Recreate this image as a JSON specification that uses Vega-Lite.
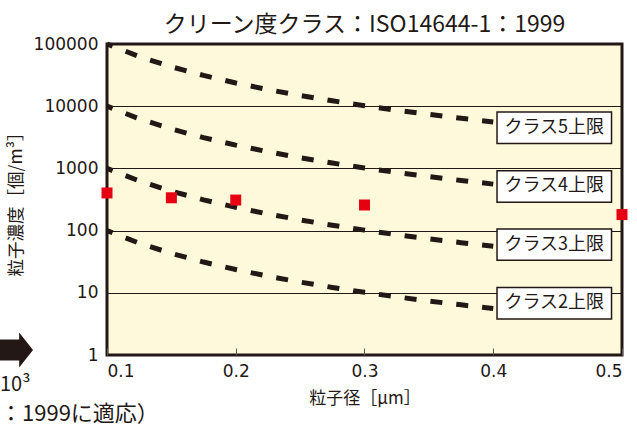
{
  "$schema": "https://vega.github.io/schema/vega-lite/v6.json",
  "width": 515,
  "height": 311,
  "autosize": "none",
  "padding": {"left": 107, "top": 44, "right": 15, "bottom": 72},
  "background": "#ffffff",
  "title": {"text": "クリーン度クラス：ISO14644-1：1999", "font": "Noto Sans CJK JP", "fontSize": 23, "fontWeight": "normal", "color": "#231815", "anchor": "middle", "offset": -3},
  "config": {
    "view": {"stroke": "#231815", "strokeWidth": 3, "fill": "#FFF9DB"},
    "axis": {"labelColor": "#231815", "titleColor": "#231815", "labelFont": "DejaVu Sans", "labelFontSize": 17, "titleFontWeight": "normal"}
  },
  "datasets": {
    "limits": [
      {"cls": "5", "x": 0.1, "y": 100000}, {"cls": "5", "x": 0.125, "y": 62870}, {"cls": "5", "x": 0.15, "y": 43020}, {"cls": "5", "x": 0.175, "y": 31220}, {"cls": "5", "x": 0.2, "y": 23650}, {"cls": "5", "x": 0.225, "y": 18510}, {"cls": "5", "x": 0.25, "y": 14870}, {"cls": "5", "x": 0.275, "y": 12200}, {"cls": "5", "x": 0.3, "y": 10170}, {"cls": "5", "x": 0.325, "y": 8610}, {"cls": "5", "x": 0.35, "y": 7380}, {"cls": "5", "x": 0.375, "y": 6400}, {"cls": "5", "x": 0.4, "y": 5590},
      {"cls": "4", "x": 0.1, "y": 10000}, {"cls": "4", "x": 0.125, "y": 6287}, {"cls": "4", "x": 0.15, "y": 4302}, {"cls": "4", "x": 0.175, "y": 3122}, {"cls": "4", "x": 0.2, "y": 2365}, {"cls": "4", "x": 0.225, "y": 1851}, {"cls": "4", "x": 0.25, "y": 1487}, {"cls": "4", "x": 0.275, "y": 1220}, {"cls": "4", "x": 0.3, "y": 1017}, {"cls": "4", "x": 0.325, "y": 861}, {"cls": "4", "x": 0.35, "y": 738}, {"cls": "4", "x": 0.375, "y": 640}, {"cls": "4", "x": 0.4, "y": 559},
      {"cls": "3", "x": 0.1, "y": 1000}, {"cls": "3", "x": 0.125, "y": 628.7}, {"cls": "3", "x": 0.15, "y": 430.2}, {"cls": "3", "x": 0.175, "y": 312.2}, {"cls": "3", "x": 0.2, "y": 236.5}, {"cls": "3", "x": 0.225, "y": 185.1}, {"cls": "3", "x": 0.25, "y": 148.7}, {"cls": "3", "x": 0.275, "y": 122.0}, {"cls": "3", "x": 0.3, "y": 101.7}, {"cls": "3", "x": 0.325, "y": 86.1}, {"cls": "3", "x": 0.35, "y": 73.8}, {"cls": "3", "x": 0.375, "y": 64.0}, {"cls": "3", "x": 0.4, "y": 55.9},
      {"cls": "2", "x": 0.1, "y": 100}, {"cls": "2", "x": 0.125, "y": 62.87}, {"cls": "2", "x": 0.15, "y": 43.02}, {"cls": "2", "x": 0.175, "y": 31.22}, {"cls": "2", "x": 0.2, "y": 23.65}, {"cls": "2", "x": 0.225, "y": 18.51}, {"cls": "2", "x": 0.25, "y": 14.87}, {"cls": "2", "x": 0.275, "y": 12.20}, {"cls": "2", "x": 0.3, "y": 10.17}, {"cls": "2", "x": 0.325, "y": 8.61}, {"cls": "2", "x": 0.35, "y": 7.38}, {"cls": "2", "x": 0.375, "y": 6.40}, {"cls": "2", "x": 0.4, "y": 5.59}
    ],
    "measured": [
      {"x": 0.1, "y": 403}, {"x": 0.15, "y": 337}, {"x": 0.2, "y": 310}, {"x": 0.3, "y": 258}, {"x": 0.5, "y": 181}
    ],
    "labels": [
      {"x": 0.4474, "y": 4500, "label": "クラス5上限"},
      {"x": 0.4474, "y": 513, "label": "クラス4上限"},
      {"x": 0.4474, "y": 59.5, "label": "クラス3上限"},
      {"x": 0.4474, "y": 6.82, "label": "クラス2上限"}
    ],
    "fragments": [
      {"x": 0.0169, "y": 0.33, "label": "10³", "size": 20},
      {"x": 0.0169, "y": 0.112, "label": "：1999に適応）", "size": 22}
    ],
    "arrow": [
      {"x": 0.0169, "y": 1.204}
    ]
  },
  "encoding": {
    "x": {"field": "x", "type": "quantitative", "scale": {"domain": [0.1, 0.5], "nice": false, "zero": false},
      "axis": {"values": [0.1, 0.2, 0.3, 0.4, 0.5], "format": ".1f", "grid": false, "domain": false, "tickSize": -7, "tickColor": "#555555", "tickWidth": 1, "labelPadding": 15, "title": "粒子径［μm］", "titleFont": "Noto Sans CJK JP", "titleFontSize": 17, "titleY": 43, "titleBaseline": "middle"}},
    "y": {"field": "y", "type": "quantitative", "scale": {"type": "log", "domain": [1, 100000], "nice": false},
      "axis": {"values": [1, 10, 100, 1000, 10000, 100000], "format": "d", "grid": true, "gridColor": "#231815", "gridWidth": 1, "gridOpacity": 1, "domain": false, "ticks": false, "labelPadding": 9, "title": "粒子濃度［個/m³］", "titleFont": "Noto Sans CJK JP", "titleFontSize": 17.5, "titleX": -91, "titleY": 155.5, "titleBaseline": "middle", "titleAngle": -90, "titleAlign": "center"}}
  },
  "layer": [
    {
      "data": {"name": "limits"},
      "mark": {"type": "line", "color": "#231815", "strokeWidth": 5, "strokeDash": [12, 14], "strokeDashOffset": 6, "strokeCap": "butt"},
      "encoding": {"detail": {"field": "cls"}}
    },
    {
      "data": {"name": "measured"},
      "mark": {"type": "point", "shape": "square", "filled": true, "size": 121, "color": "#E60012", "opacity": 1}
    },
    {
      "data": {"name": "labels"},
      "mark": {"type": "point", "shape": "M-1,-0.275L1,-0.275L1,0.275L-1,0.275Z", "size": 13110, "filled": true, "fill": "#ffffff", "stroke": "#231815", "strokeWidth": 1.5, "opacity": 1}
    },
    {
      "data": {"name": "labels"},
      "mark": {"type": "text", "font": "Noto Sans CJK JP", "fontSize": 18, "color": "#231815", "align": "center", "baseline": "middle"},
      "encoding": {"text": {"field": "label"}}
    },
    {
      "data": {"name": "fragments"},
      "mark": {"type": "text", "font": "Noto Sans CJK JP", "color": "#231815", "align": "left", "baseline": "middle"},
      "encoding": {"text": {"field": "label"}, "size": {"field": "size", "type": "quantitative", "scale": null}}
    },
    {
      "data": {"name": "arrow"},
      "mark": {"type": "point", "shape": "M-1,-0.32L0.58,-0.32L0.58,-0.53L1,0L0.58,0.53L0.58,0.32L-1,0.32Z", "size": 4356, "filled": true, "color": "#231815", "opacity": 1}
    }
  ]
}
